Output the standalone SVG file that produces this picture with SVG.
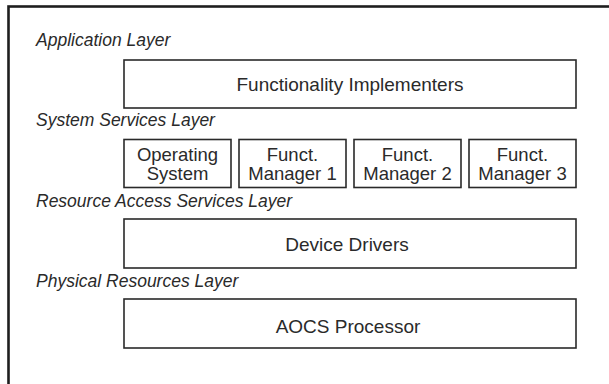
<svg xmlns="http://www.w3.org/2000/svg" width="609" height="384" viewBox="0 0 609 384">
  <style>
    .frame { fill: none; stroke: #1e1e1e; stroke-width: 2.6; }
    .box { fill: #ffffff; stroke: #2a2a2a; stroke-width: 1.6; }
    .layer { font-family: "Liberation Sans", Arial, sans-serif; font-style: italic; font-size: 17.5px; fill: #2a2a2a; }
    .label { font-family: "Liberation Sans", Arial, sans-serif; font-size: 19px; fill: #2a2a2a; text-anchor: middle; }
    .small { font-size: 18.5px; }
  </style>
  <rect x="0" y="0" width="609" height="384" fill="#ffffff"/>
  <!-- outer frame, running past the right and bottom edges -->
  <rect class="frame" x="8.5" y="6.5" width="640" height="420"/>

  <!-- layer captions -->
  <text class="layer" x="36" y="46">Application Layer</text>
  <text class="layer" x="36" y="125.5">System Services Layer</text>
  <text class="layer" x="36" y="206.5">Resource Access Services Layer</text>
  <text class="layer" x="36" y="286.5">Physical Resources Layer</text>

  <g id="functionality-implementers">
    <rect class="box" x="124" y="60" width="452" height="48"/>
    <text class="label" x="350" y="91">Functionality Implementers</text>
  </g>

  <g id="operating-system">
    <rect class="box" x="124" y="139.5" width="107" height="48"/>
    <text class="label small" x="177.5" y="161">Operating</text>
    <text class="label small" x="177.5" y="180">System</text>
  </g>
  <g id="funct-manager-1">
    <rect class="box" x="239" y="139.5" width="107" height="48"/>
    <text class="label small" x="292.5" y="161">Funct.</text>
    <text class="label small" x="292.5" y="180">Manager 1</text>
  </g>
  <g id="funct-manager-2">
    <rect class="box" x="354" y="139.5" width="107" height="48"/>
    <text class="label small" x="407.5" y="161">Funct.</text>
    <text class="label small" x="407.5" y="180">Manager 2</text>
  </g>
  <g id="funct-manager-3">
    <rect class="box" x="469" y="139.5" width="107" height="48"/>
    <text class="label small" x="522.5" y="161">Funct.</text>
    <text class="label small" x="522.5" y="180">Manager 3</text>
  </g>

  <g id="device-drivers">
    <rect class="box" x="124" y="219" width="452" height="49"/>
    <text class="label" x="347" y="251">Device Drivers</text>
  </g>

  <g id="aocs-processor">
    <rect class="box" x="124" y="299" width="452" height="49"/>
    <text class="label" x="348" y="333">AOCS Processor</text>
  </g>

  <g id="connectors"/>
</svg>
